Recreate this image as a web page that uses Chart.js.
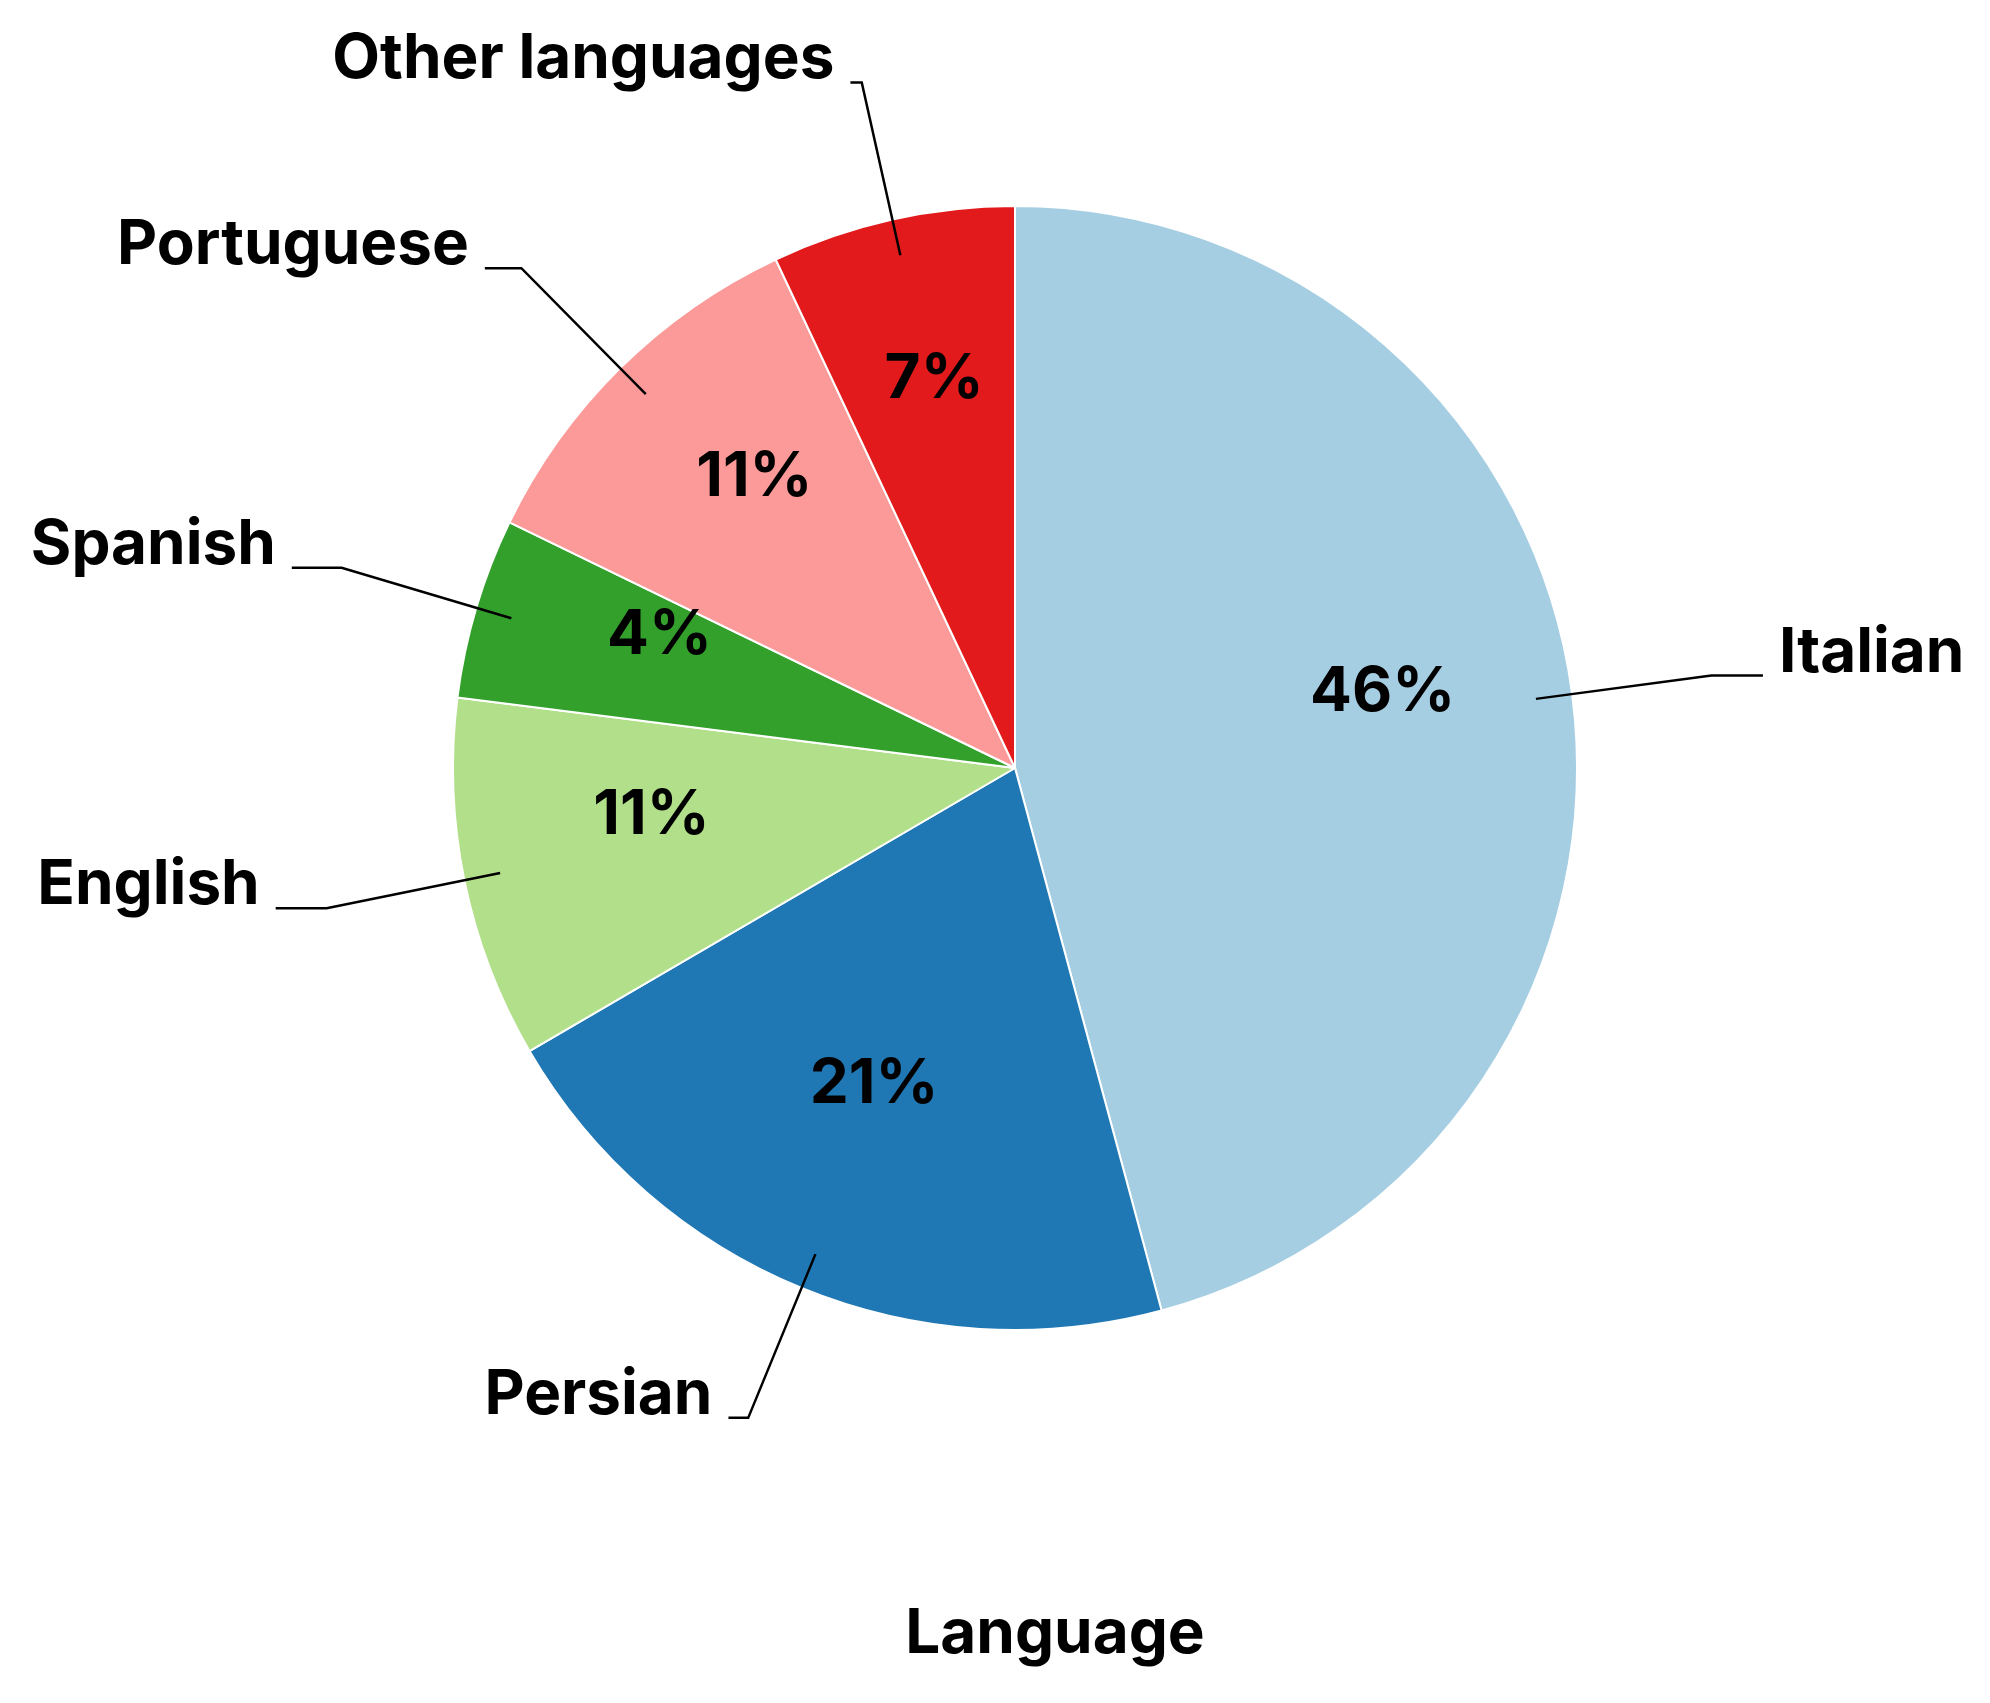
<!DOCTYPE html>
<html>
<head>
<meta charset="utf-8">
<script src="https://cdn.jsdelivr.net/npm/chart.js@4/dist/chart.umd.min.js"></script>
<style>
  html, body { margin: 0; padding: 0; background: #ffffff; }
  #wrap { width: 1990px; height: 1703px; }
</style>
</head>
<body>
<div id="wrap"><canvas id="c" width="1990" height="1703"></canvas></div>
<script>
// ---- data ----
const categories = ['Italian', 'Persian', 'English', 'Spanish', 'Portuguese', 'Other languages'];
const shares = [45.8, 20.8, 10.4, 5.2, 10.8, 7.0];
const percentLabels = ['46%', '21%', '11%', '4%', '11%', '7%'];
const colors = ['#a6cee3', '#1f78b4', '#b2df8a', '#33a02c', '#fb9a99', '#e31a1c'];
const chartTitle = 'Language';

const FONT = 'Inter, "Noto Sans", "DejaVu Sans", sans-serif';
const FSIZE = 62;

const labelPlugin = {
  id: 'pieLabels',
  afterDatasetsDraw(chart) {
    const ctx = chart.ctx;
    const meta = chart.getDatasetMeta(0);
    ctx.save();
    ctx.font = '700 ' + FSIZE + 'px ' + FONT;
    ctx.fillStyle = '#000';
    ctx.strokeStyle = '#000';
    ctx.lineWidth = 2.5;
    ctx.lineJoin = 'miter';
    meta.data.forEach((arc, i) => {
      const p = arc.getProps(['x', 'y', 'startAngle', 'endAngle', 'outerRadius'], true);
      const mid = (p.startAngle + p.endAngle) / 2;
      const cx = p.x, cy = p.y, r = p.outerRadius;
      const cos = Math.cos(mid), sin = Math.sin(mid);
      // percentage inside slice
      ctx.textAlign = 'center';
      ctx.textBaseline = 'middle';
      ctx.fillText(percentLabels[i], cx + cos * r * 0.66, cy + sin * r * 0.66 - 27);
      // leader line
      const x0 = cx + cos * r * 0.935, y0 = cy + sin * r * 0.935;
      const x1 = cx + cos * r * 1.25, y1 = cy + sin * r * 1.25;
      const dir = cos >= 0 ? 1 : -1;
      const hlen = 52 * Math.abs(cos);
      const x2 = x1 + dir * hlen;
      ctx.beginPath();
      ctx.moveTo(x0, y0);
      ctx.lineTo(x1, y1);
      ctx.lineTo(x2, y1);
      ctx.stroke();
      ctx.textAlign = dir > 0 ? 'left' : 'right';
      ctx.textBaseline = 'alphabetic';
      ctx.fillText(categories[i], x2 + dir * 16, y1 - 4);
    });
    // title
    ctx.textAlign = 'center';
    ctx.textBaseline = 'alphabetic';
    ctx.fillText(chartTitle, 1055, 1653);
    ctx.restore();
  }
};

new Chart(document.getElementById('c'), {
  type: 'pie',
  data: {
    labels: categories,
    datasets: [{
      data: shares,
      backgroundColor: colors,
      borderColor: '#ffffff',
      borderWidth: 2
    }]
  },
  options: {
    responsive: false,
    animation: false,
    layout: { padding: { left: 452, right: 412, top: 205, bottom: 372 } },
    plugins: {
      legend: { display: false },
      title: { display: false },
      tooltip: { enabled: false }
    }
  },
  plugins: [labelPlugin]
});
</script>
</body>
</html>
